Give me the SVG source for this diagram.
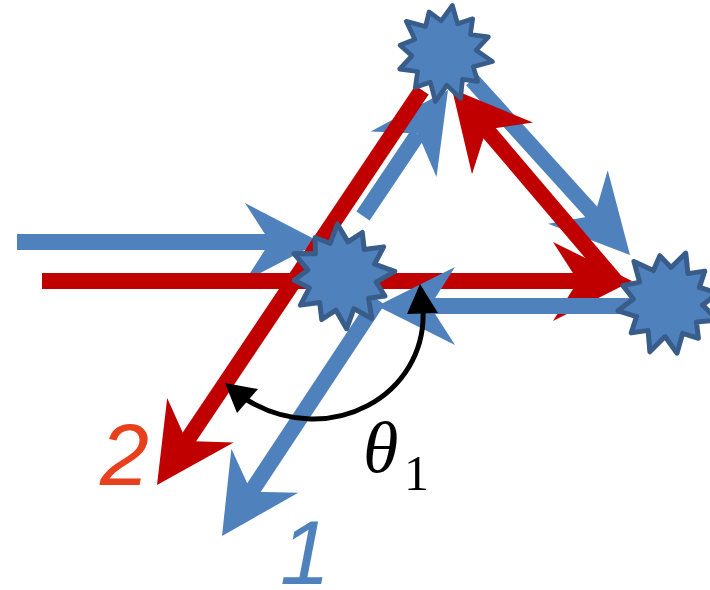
<svg xmlns="http://www.w3.org/2000/svg" width="710" height="590" viewBox="0 0 710 590">
<style>
.blue{fill:#4F81BD}
.red{fill:#C00000}
.bs{stroke:#4F81BD;stroke-width:16;fill:none}
.rs{stroke:#C00000;stroke-width:16;fill:none}
.star{fill:#4F81BD;stroke:#385D8A;stroke-width:5;stroke-linejoin:round}
.arc{stroke:#000;stroke-width:5;fill:none}
</style>
<defs>
<polygon id="burst" points="0,-52 9,-33.5 24,-41.6 24.5,-24.5 44,-25.4 33.5,-9 53,0 33.5,9 41,23.7 24.5,24.5 26,45 9,33.5 0,53 -9,33.5 -24,41.6 -24.5,24.5 -44,25.4 -33.5,9 -48,0 -33.5,-9 -45.9,-26.5 -24.5,-24.5 -23.5,-40.7 -9,-33.5"/>
</defs>
<g id="connectors">
<g id="blue-in">
<rect class="blue" x="17" y="234" width="258" height="16"/>
<polygon class="blue" points="320,242 245,203 270,242 245,281"/>
</g>
<g id="blue-1">
<line class="bs" x1="378" y1="300" x2="251" y2="492"/>
<polygon class="blue" points="222,536 231.4,448.8 251.1,491.7 298.2,492.8"/>
</g>
<g id="blue-up">
<line class="bs" x1="363" y1="216" x2="418" y2="134"/>
<polygon class="blue" points="448,90 370.7,131.4 417.8,133.6 436.5,177"/>
</g>
<g id="blue-diag">
<line class="bs" x1="472" y1="80" x2="595" y2="216"/>
<polygon class="blue" points="630,255 607.7,170.3 594.6,215.6 548.1,223.7"/>
</g>
<g id="red-horizontal">
<rect class="red" x="42" y="273" width="538" height="16"/>
<polygon class="red" points="632,281 553,242 578,281 553,321"/>
</g>
<g id="blue-left">
<rect class="blue" x="400" y="298" width="250" height="16"/>
<polygon class="blue" points="377,306 455,267 430,306 455,345"/>
</g>
<g id="red-double">
<line class="rs" x1="486" y1="129" x2="617" y2="283"/>
<polygon class="red" points="452,89 533,122.5 486.3,129.4 472,174.3"/>
</g>
<g id="red-2">
<line class="rs" x1="422" y1="90" x2="186" y2="442"/>
<polygon class="red" points="157,485 167.2,398 186.5,441 233.6,442.6"/>
</g>
</g>
<g id="star-middle"><use href="#burst" class="star" transform="translate(342,276) rotate(-5)"/></g>
<g id="star-top"><use href="#burst" class="star" transform="translate(444,53) rotate(10) scale(0.93)"/></g>
<g id="star-right"><use href="#burst" class="star" transform="translate(668,302) rotate(20)"/></g>
<g id="angle">
<path class="arc" d="M423,310 C427,395 330,450 247,400"/>
<polygon points="420,284 407,314 438,313" fill="#000"/>
<polygon points="225,383 237,413 258,389" fill="#000"/>
</g>
<g id="labels">
<text x="100" y="485" font-family="Liberation Sans, Arial, sans-serif" font-style="italic" font-size="88" fill="#E8401C">2</text>
<text x="280" y="584" font-family="Liberation Sans, Arial, sans-serif" font-style="italic" font-size="90" fill="#4F81BD">1</text>
<text x="363" y="472" font-family="Liberation Serif, Times New Roman, serif" font-style="italic" font-size="72" fill="#000">θ</text>
<text x="404" y="490" font-family="Liberation Serif, Times New Roman, serif" font-size="50" fill="#000">1</text>
</g>
</svg>
